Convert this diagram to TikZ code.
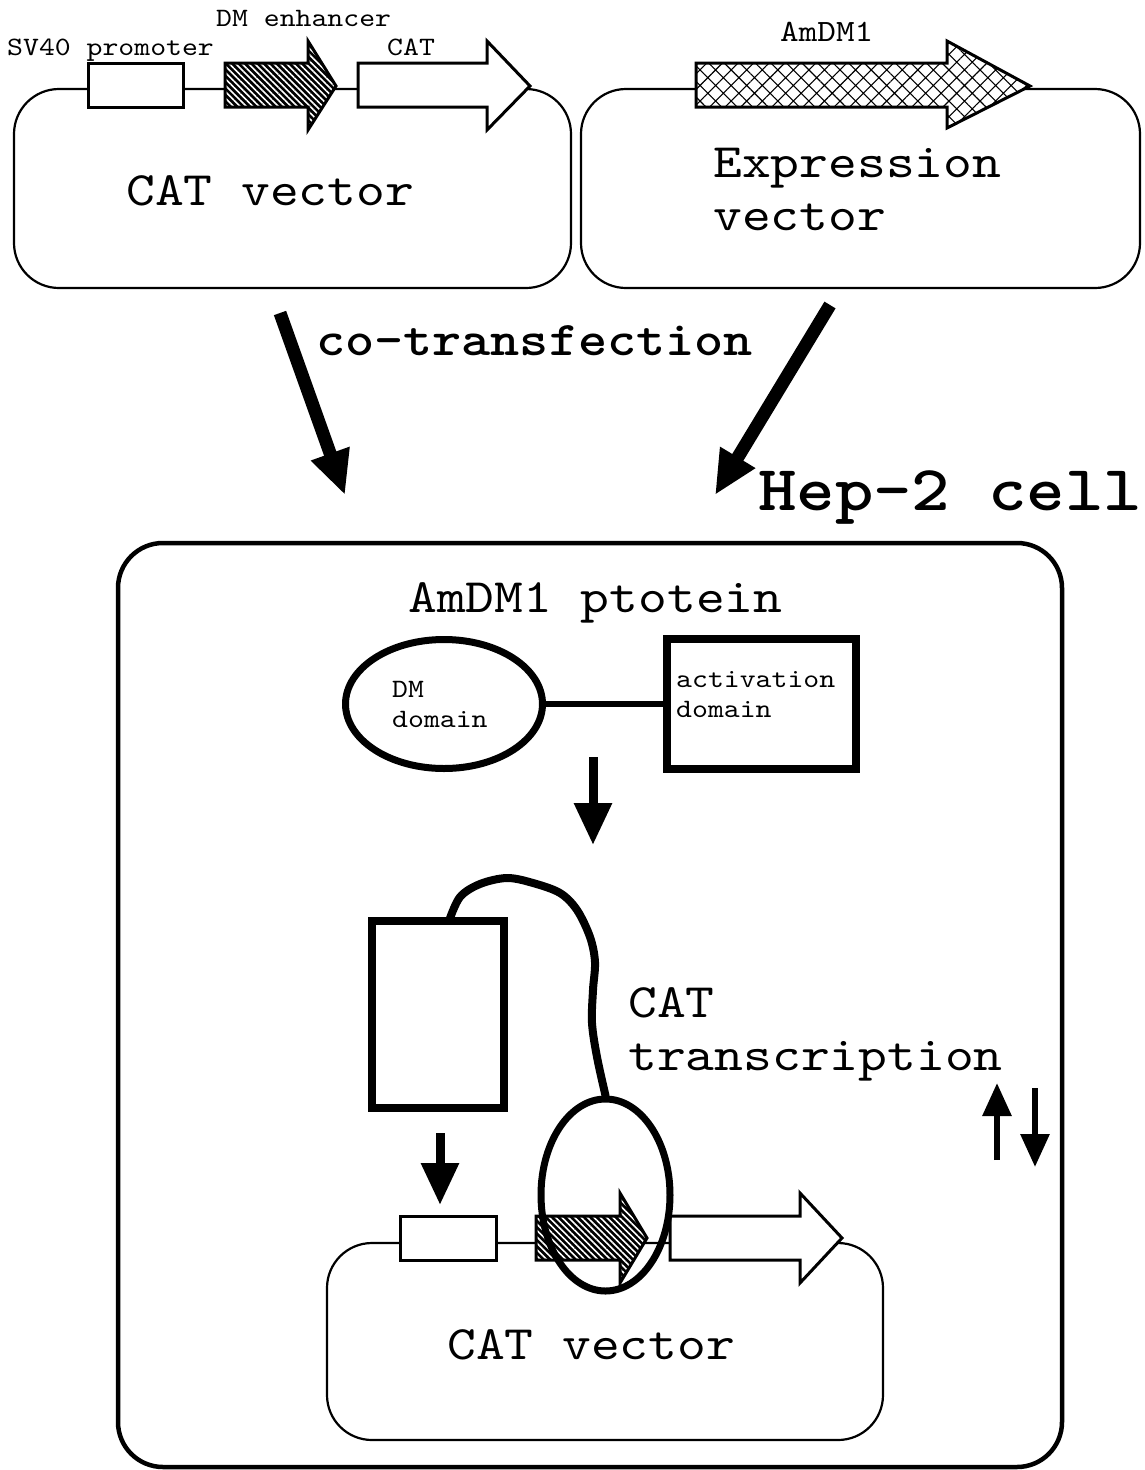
\documentclass[tikz,border=0pt]{standalone}
\usepackage{fontspec}
\setmonofont{lmmono10-regular.otf}[FakeStretch=1.143, BoldFont=lmmonolt10-bold.otf]
\usetikzlibrary{arrows.meta,patterns.meta,shapes.geometric}
\begin{document}
\begin{tikzpicture}[x=1pt,y=-1pt,
  vecbox/.style={draw, line width=2.2pt, rounded corners=45pt, inner sep=0pt},
  cellbox/.style={draw, line width=4.5pt, rounded corners=45pt, inner sep=0pt},
  elem/.style={draw, fill=white, line width=3pt, line join=miter},
  enh/.style={draw, line width=3pt, line join=miter, preaction={fill=black},
    pattern={Lines[angle=-45,distance=4.5pt,line width=1.6pt]}, pattern color=white},
  gene/.style={draw, line width=3pt, line join=miter, preaction={fill=white},
    pattern={Hatch[angle=45,distance=11pt,line width=1.1pt]}, pattern color=black},
  heavy/.style={draw, line width=7pt, inner sep=0pt},
  sm/.style={anchor=base west, inner sep=0pt, font=\ttfamily\fontsize{26.5}{30}\selectfont},
  md/.style={anchor=base west, inner sep=0pt, font=\ttfamily\fontsize{31}{34}\selectfont},
  bg/.style={anchor=base west, inner sep=0pt, font=\ttfamily\fontsize{48}{53}\selectfont},
  bd/.style={anchor=base west, inner sep=0pt, font=\ttfamily\bfseries\fontsize{48.5}{53}\selectfont},
  hep/.style={anchor=base west, inner sep=0pt, font=\ttfamily\bfseries\fontsize{64}{70}\selectfont},
  bigarrow/.style={line width=13pt, -{Triangle[length=44pt,width=38pt]}},
  medarrow/.style={line width=9pt, -{Triangle[length=42pt,width=36pt]}},
  smallarrow/.style={line width=6pt, -{Triangle[length=33pt,width=28pt]}}
]
\useasboundingbox (0,0) rectangle (1144,1470);

% ---------- top left: CAT vector ----------
\node[vecbox, minimum width=557pt, minimum height=199pt] (catvec) at (292.5,188.5) {};
\node[elem, minimum width=95pt, minimum height=44pt, inner sep=0pt] (sv) at (135.5,85) {};
\draw[enh] (225,63) -- (308,63) -- (308,41) -- (336,86) -- (308,130) -- (308,107) -- (225,107) -- cycle;
\draw[elem] (358,63) -- (487,63) -- (487,41) -- (530,86) -- (487,130) -- (487,107) -- (358,107) -- cycle;
\node[sm] (tsv) at (7,55) {SV40 promoter};
\node[sm] (tdm) at (216,26) {DM enhancer};
\node[sm] (tcat) at (387,55) {CAT};
\node[bg] (tcv1) at (126,205) {CAT vector};

% ---------- top right: Expression vector ----------
\node[vecbox, minimum width=559pt, minimum height=199pt] (expvec) at (860.5,188.5) {};
\draw[gene] (696,63) -- (947,63) -- (947,41) -- (1030,86) -- (947,128) -- (947,107) -- (696,107) -- cycle;
\node[md] (tam) at (780,41) {AmDM1};
\node[bg] (tex1) at (713,177) {Expression};
\node[bg] (tex2) at (713,230) {vector};

% ---------- co-transfection ----------
\coordinate (t1s) at (280,313);
\coordinate (t1e) at (345,495);
\coordinate (t2s) at (830,305);
\coordinate (t2e) at (715,495);
\draw[bigarrow] (t1s) -- (t1e);
\draw[bigarrow] (t2s) -- (t2e);
\node[bd] (tco) at (316,355) {co-transfection};
\node[hep] (thep) at (758,510) {Hep-2 cell};

% ---------- cell ----------
\node[cellbox, minimum width=944pt, minimum height=924pt] (cell) at (590,1005) {};
\node[bg] (tprot) at (408,612) {AmDM1 ptotein};

\node[heavy, ellipse, minimum width=197pt, minimum height=129pt] (dmd) at (444,704) {};
\node[heavy, line width=8pt, rectangle, minimum width=189pt, minimum height=130pt] (act) at (761.5,704) {};
\draw[line width=6.5pt] (dmd.east) -- (act.west);
\node[sm] (tdm1) at (392,697) {DM};
\node[sm] (tdm2) at (392,727) {domain};
\node[sm] (tact1) at (676,687) {activation};
\node[sm] (tact2) at (676,717) {domain};

\coordinate (a1s) at (593,757);
\coordinate (a1e) at (593,845);
\draw[medarrow] (a1s) -- (a1e);

\node[heavy, line width=8pt, rectangle, minimum width=132pt, minimum height=187pt] (big) at (438,1014.5) {};

\node[sm, font=\ttfamily\fontsize{48}{53}\selectfont] (ttr1) at (628,1017) {CAT};
\node[bg] (ttr2) at (628,1070) {transcription};

\coordinate (a2s) at (440,1133);
\coordinate (a2e) at (440,1205);
\draw[medarrow] (a2s) -- (a2e);

% ---------- bottom CAT vector ----------
\node[vecbox, minimum width=556pt, minimum height=197pt] (catvec2) at (605,1341.5) {};
\node[elem, minimum width=96pt, minimum height=44pt, inner sep=0pt] (sv2) at (448,1238) {};
\draw[enh] (536,1216) -- (620,1216) -- (620,1193) -- (647,1238) -- (620,1283) -- (620,1260) -- (536,1260) -- cycle;
\draw[elem] (670,1216) -- (800,1216) -- (800,1193) -- (842,1238) -- (800,1283) -- (800,1260) -- (670,1260) -- cycle;
\node[bg] (tcv2) at (447,1359) {CAT vector};

\node[heavy, ellipse, minimum width=129pt, minimum height=192pt] (bell) at (605.5,1195) {};

% ---------- linker curve ----------
\coordinate (cs) at (449,921);
\draw[line width=8pt, line cap=round] plot[smooth, tension=0.55] coordinates
  {(cs) (460,897) (480,884) (507,878) (533,883) (560,893) (577,910) (590,937) (595,962) (593,990) (592,1023) (597,1057) (bell.north)};

% ---------- up / down arrows ----------
\coordinate (us) at (997,1160);
\coordinate (ue) at (997,1083);
\coordinate (ds) at (1035,1088);
\coordinate (de) at (1035,1167);
\draw[smallarrow] (us) -- (ue);
\draw[smallarrow] (ds) -- (de);
\end{tikzpicture}
\end{document}
